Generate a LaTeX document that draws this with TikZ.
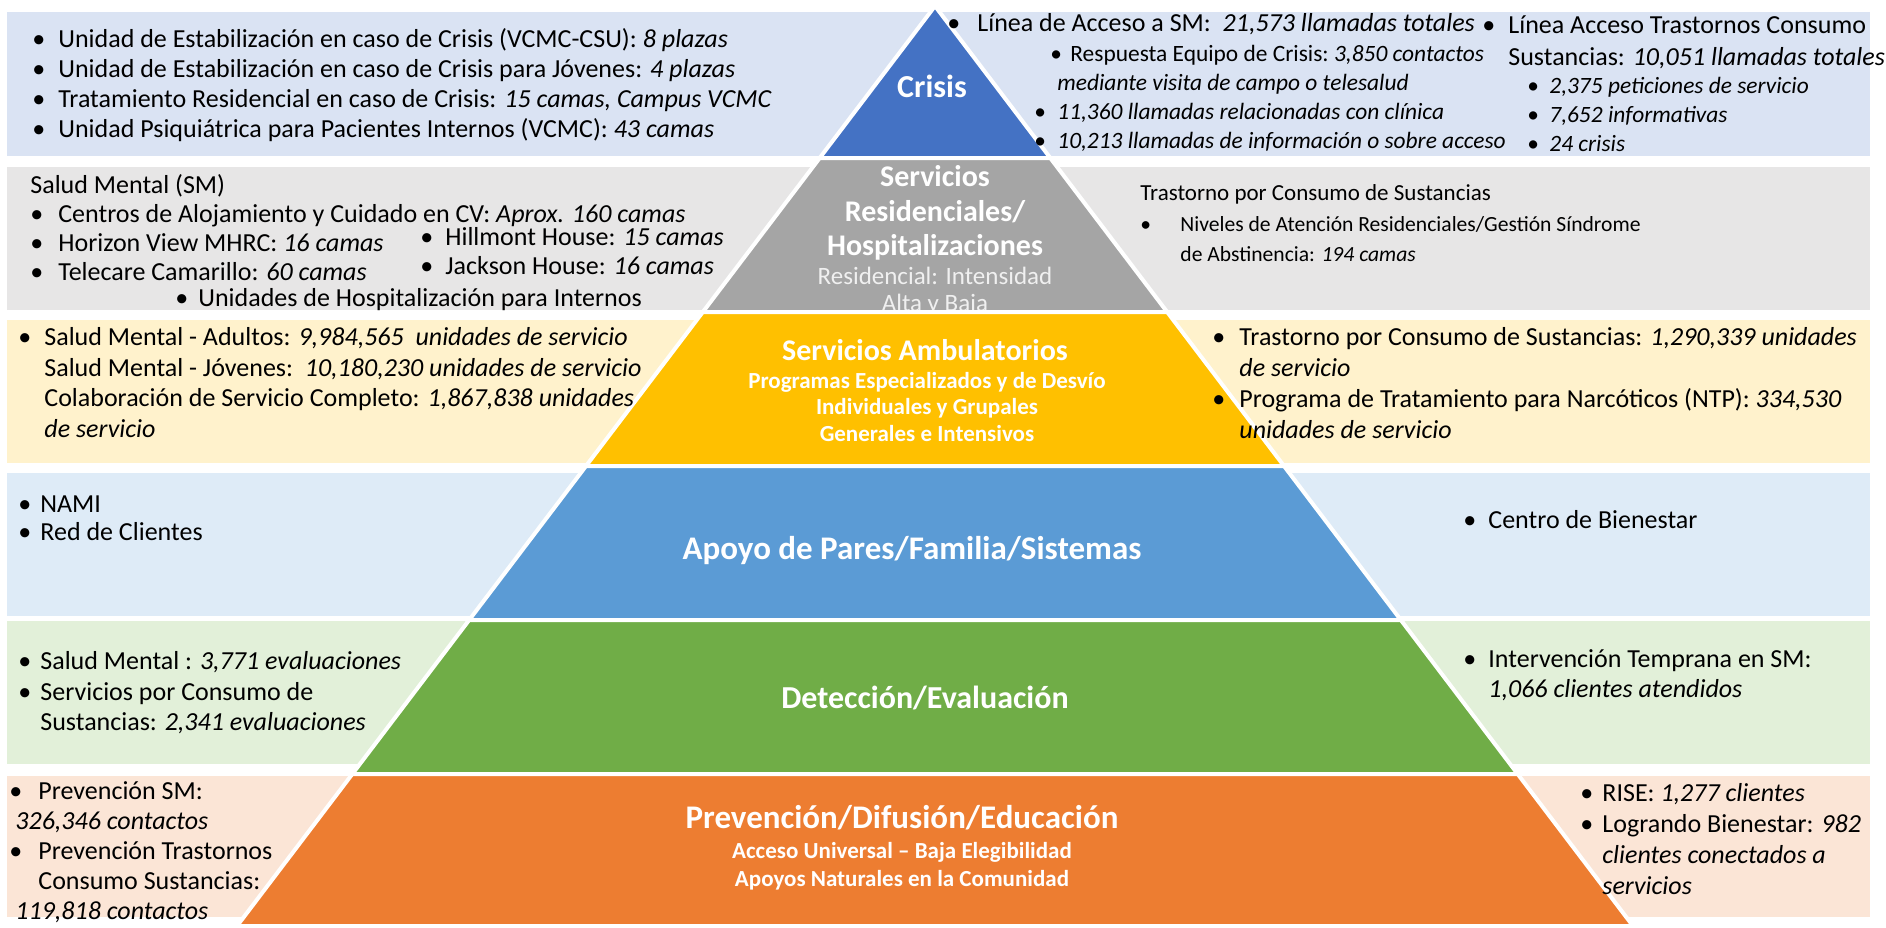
\documentclass[tikz,border=0pt]{standalone}
\usepackage{fontspec}
\setmainfont{Carlito}

\definecolor{crisisblue}{HTML}{4472C4}
\definecolor{resgray}{HTML}{A5A5A5}
\definecolor{ambyellow}{HTML}{FFC000}
\definecolor{peerblue}{HTML}{5B9BD5}
\definecolor{detgreen}{HTML}{70AD47}
\definecolor{prevorange}{HTML}{ED7D31}
\definecolor{bandcrisis}{HTML}{DAE3F3}
\definecolor{bandres}{HTML}{E7E6E6}
\definecolor{bandamb}{HTML}{FFF2CC}
\definecolor{bandpeer}{HTML}{DEEBF7}
\definecolor{banddet}{HTML}{E2F0D9}
\definecolor{bandprev}{HTML}{FBE5D6}

% bullet with a fixed hanging width
\newcommand{\itm}[1][13pt]{\makebox[#1][l]{•}}

\begin{document}
\begin{tikzpicture}[x=0.5pt, y=-0.5pt,
    band/.style={fill=#1},
    pyrlayer/.style={fill=#1, draw=white, line width=2pt},
    txt/.style={anchor=north west, inner sep=0pt, align=left, font=\fontsize{13}{15}\selectfont},
    subtxt/.style={txt, font=\fontsize{11.7}{14.5}\selectfont},
    lvltitle/.style={text=white, inner sep=0pt, align=center, font=\bfseries\fontsize{16}{19}\selectfont},
    lvlsub/.style={text=white, inner sep=0pt, align=center, font=\bfseries\fontsize{11.5}{13.4}\selectfont}]
    \useasboundingbox (0,0) rectangle (1886,927);
    \fill[white] (0,0) rectangle (1886,927);

    % Bands behind the pyramid
    \fill[band=bandcrisis] (7,12) rectangle (1870,156);
    \fill[band=bandres] (7,167) rectangle (1870,310);
    \fill[band=bandamb] (7,320) rectangle (1870,463);
    \fill[band=bandpeer] (7,473) rectangle (1870,616);
    \fill[band=banddet] (7,621) rectangle (1870,764);
    \fill[band=bandprev] (7,776) rectangle (1870,917);

    % Pyramid levels
    \filldraw[pyrlayer=crisisblue] (935,6) -- ({935+0.7587*152},158) -- ({935-0.7587*152},158) -- cycle;
    \foreach \yt/\yb/\col in {158/312/resgray, 312/466/ambyellow, 466/620/peerblue,
                              620/774/detgreen, 774/926/prevorange}
        \filldraw[pyrlayer=\col] ({935-0.7587*(\yt-6)},\yt) -- ({935+0.7587*(\yt-6)},\yt)
            -- ({935+0.7587*(\yb-6)},\yb) -- ({935-0.7587*(\yb-6)},\yb) -- cycle;

    % Level titles
    \node[lvltitle] (tCrisis) at (932,86) {Crisis};
    \node[lvltitle, font=\bfseries\fontsize{15}{17.25}\selectfont] (tRes) at (935,213)
        {Servicios\\Residenciales/\\Hospitalizaciones};
    \begin{scope}
        \clip (600,160) rectangle (1270,309);
        \node[anchor=north, inner sep=0pt, align=center, text=white!94!black,
              font=\fontsize{12.5}{13.5}\selectfont] (tResSub) at (935,267)
            {Residencial: Intensidad\\Alta y Baja};
    \end{scope}
    \node[lvltitle, font=\bfseries\fontsize{15}{18}\selectfont] (tAmb) at (925,350) {Servicios Ambulatorios};
    \node[lvlsub] (tAmbSub) at (927,407)
        {Programas Especializados y de Desvío\\Individuales y Grupales\\Generales e Intensivos};
    \node[lvltitle, font=\bfseries\fontsize{16.5}{19}\selectfont] (tPeer) at (912,551) {Apoyo de Pares/Familia/Sistemas};
    \node[lvltitle] (tDet) at (925,698) {Detección/Evaluación};
    \node[lvltitle, font=\bfseries\fontsize{16.5}{19}\selectfont] (tPrev) at (902,818) {Prevención/Difusión/Educación};
    \node[lvlsub, font=\bfseries\fontsize{11.5}{14}\selectfont] (tPrevSub) at (902,866)
        {Acceso Universal – Baja Elegibilidad\\Apoyos Naturales en la Comunidad};

    % Crisis row
    \node[txt] (crisL) at (32,28)
        {\itm Unidad de Estabilización en caso de Crisis (VCMC-CSU): \textit{8 plazas}\\
         \itm Unidad de Estabilización en caso de Crisis para Jóvenes: \textit{4 plazas}\\
         \itm Tratamiento Residencial en caso de Crisis: \textit{15 camas, Campus VCMC}\\
         \itm Unidad Psiquiátrica para Pacientes Internos (VCMC): \textit{43 camas}};
    \node[txt] (lineSM) at (947,13) {\itm[15pt]Línea de Acceso a SM:\ \ \textit{21,573 llamadas totales}};
    \node[subtxt] (crisTeam) at (1050,45) {\itm[10pt]Respuesta Equipo de Crisis:\ \textit{3,850 contactos}};
    \node[subtxt] (callsSM) at (1034,74)
        {\hspace*{11.5pt}\textit{mediante visita de campo o telesalud}\\
         \itm[11.5pt]\textit{11,360 llamadas relacionadas con clínica}\\
         \itm[11.5pt]\textit{10,213 llamadas de información o sobre acceso}};
    \node[txt] (lineSUD) at (1482,15)
        {\itm Línea Acceso Trastornos Consumo\\[1pt]
         \hspace*{13pt}Sustancias: \textit{10,051 llamadas totales}};
    \node[subtxt] (callsSUD) at (1527,77)
        {\itm[11pt]\textit{2,375 peticiones de servicio}\\
         \itm[11pt]\textit{7,652 informativas}\\
         \itm[11pt]\textit{24 crisis}};

    % Residential row
    \node[txt, font=\fontsize{13}{14.5}\selectfont] (resSM) at (30,174)
        {Salud Mental (SM)\\
         \itm[14pt]Centros de Alojamiento y Cuidado en CV: \textit{Aprox. 160 camas}\\
         \itm[14pt]Horizon View MHRC: \textit{16 camas}\\
         \itm[14pt]Telecare Camarillo: \textit{60 camas}};
    \node[txt, font=\fontsize{13}{14.5}\selectfont] (resHouses) at (420,227)
        {\itm[12.5pt]Hillmont House: \textit{15 camas}\\
         \itm[12.5pt]Jackson House: \textit{16 camas}};
    \node[txt] (resUnits) at (175,288) {\itm[11.5pt]Unidades de Hospitalización para Internos};
    \node[txt, font=\fontsize{11.5}{15}\selectfont] (resSUDhead) at (1140,184)
        {Trastorno por Consumo de Sustancias};
    \node[txt, font=\fontsize{10.8}{15}\selectfont] (resSUDbeds) at (1140,216)
        {\itm[20pt]Niveles de Atención Residenciales/Gestión Síndrome\\
         \hspace*{20pt}de Abstinencia: \textit{194 camas}};

    % Outpatient row
    \node[txt, font=\fontsize{13}{15.3}\selectfont] (ambSM) at (18,327)
        {\itm Salud Mental - Adultos: \textit{9,984,565\ \ unidades de servicio}\\
         \hspace*{13pt}Salud Mental - Jóvenes:\ \ \textit{10,180,230 unidades de servicio}\\
         \hspace*{13pt}Colaboración de Servicio Completo: \textit{1,867,838 unidades}\\
         \hspace*{13pt}\textit{de servicio}};
    \node[txt, font=\fontsize{13}{15.5}\selectfont] (ambSUD) at (1212,327)
        {\itm[13.5pt]Trastorno por Consumo de Sustancias: \textit{1,290,339 unidades}\\
         \hspace*{13.5pt}\textit{de servicio}\\
         \itm[13.5pt]Programa de Tratamiento para Narcóticos (NTP): \textit{334,530}\\
         \hspace*{13.5pt}\textit{unidades de servicio}};

    % Peer support row
    \node[txt, font=\fontsize{13}{14}\selectfont] (peerL) at (18,495)
        {\itm[11pt]NAMI\\ \itm[11pt]Red de Clientes};
    \node[txt] (peerR) at (1463,510) {\itm[12.5pt]Centro de Bienestar};

    % Screening row
    \node[txt, font=\fontsize{13}{15.3}\selectfont] (detL) at (18,651)
        {\itm[11pt]Salud Mental : \textit{3,771 evaluaciones}\\
         \itm[11pt]Servicios por Consumo de\\
         \hspace*{11pt}Sustancias: \textit{2,341 evaluaciones}};
    \node[txt, font=\fontsize{13}{15.3}\selectfont] (detR) at (1463,649)
        {\itm[12.5pt]Intervención Temprana en SM:\\
         \hspace*{12.5pt}\textit{1,066 clientes atendidos}};

    % Prevention row
    \node[txt, font=\fontsize{13}{15}\selectfont] (prevL) at (9,781)
        {\itm[14.5pt]Prevención SM:\\
         \hspace*{3pt}\textit{326,346 contactos}\\
         \itm[14.5pt]Prevención Trastornos\\
         \hspace*{14.5pt}Consumo Sustancias:\\
         \hspace*{3pt}\textit{119,818 contactos}};
    \node[txt, font=\fontsize{13}{15.5}\selectfont] (prevR) at (1580,783)
        {\itm[11pt]RISE: \textit{1,277 clientes}\\
         \itm[11pt]Logrando Bienestar: \textit{982}\\
         \hspace*{11pt}\textit{clientes conectados a}\\
         \hspace*{11pt}\textit{servicios}};
\end{tikzpicture}
\end{document}
